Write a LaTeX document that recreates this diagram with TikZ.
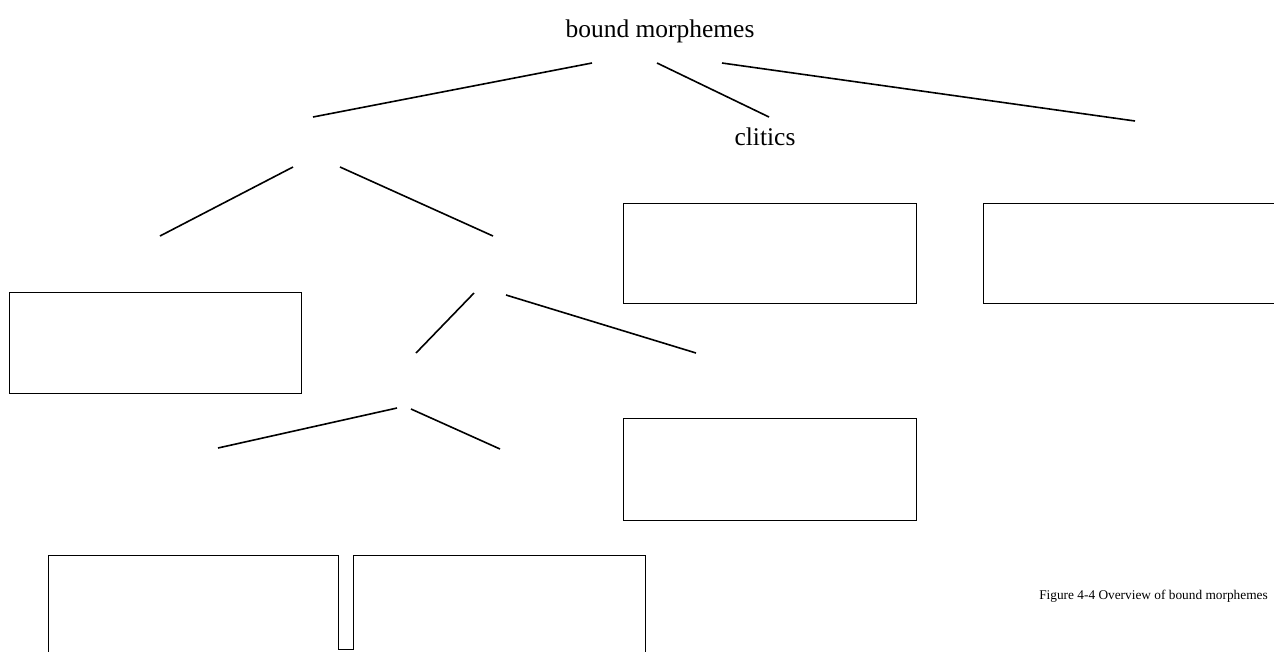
\documentclass[tikz,border=0pt]{standalone}
\usepackage{fontspec}
\setmainfont{Liberation Serif}
\begin{document}
\begin{tikzpicture}[x=0.75pt,y=-0.75pt,
  branch/.style={line width=1.2pt, line cap=butt},
  slot/.style={line width=0.75pt},
  label/.style={inner sep=0pt, anchor=base, font=\fontsize{19.1}{22}\selectfont},
  caption/.style={inner sep=0pt, anchor=base east, font=\fontsize{10}{12}\selectfont}]
\useasboundingbox (0,0) rectangle (1274,651);

% labels
\node[label] (root) at (660,37) {bound morphemes};
\node[label] (clitics) at (765,145) {clitics};
\node[caption] (cap) at (1268,599) {Figure 4-4 Overview of bound morphemes};

% branch end points
\coordinate (r1a) at (592,63);  \coordinate (r1b) at (313,117);
\coordinate (r2a) at (657,63);  \coordinate (r2b) at (769,117);
\coordinate (r3a) at (722,63);  \coordinate (r3b) at (1135,121);
\coordinate (l1a) at (293,167); \coordinate (l1b) at (160,236);
\coordinate (l2a) at (340,167); \coordinate (l2b) at (493,236);
\coordinate (m1a) at (474,293); \coordinate (m1b) at (416,353);
\coordinate (m2a) at (506,295); \coordinate (m2b) at (696,353);
\coordinate (b1a) at (397,408); \coordinate (b1b) at (218,448);
\coordinate (b2a) at (411,409); \coordinate (b2b) at (500,449);

\draw[branch] (r1a) -- (r1b);
\draw[branch] (r2a) -- (r2b);
\draw[branch] (r3a) -- (r3b);
\draw[branch] (l1a) -- (l1b);
\draw[branch] (l2a) -- (l2b);
\draw[branch] (m1a) -- (m1b);
\draw[branch] (m2a) -- (m2b);
\draw[branch] (b1a) -- (b1b);
\draw[branch] (b2a) -- (b2b);

% empty slots
\draw[slot] (623,203) rectangle (916,303);
\draw[slot] (1274,203) -- (983,203) -- (983,303) -- (1274,303);
\draw[slot] (9,292) rectangle (301,393);
\draw[slot] (623,418) rectangle (916,520);
\draw[slot] (48,652) -- (48,555) -- (338,555) -- (338,649) -- (353,649)
            -- (353,555) -- (645,555) -- (645,652);
\end{tikzpicture}
\end{document}
